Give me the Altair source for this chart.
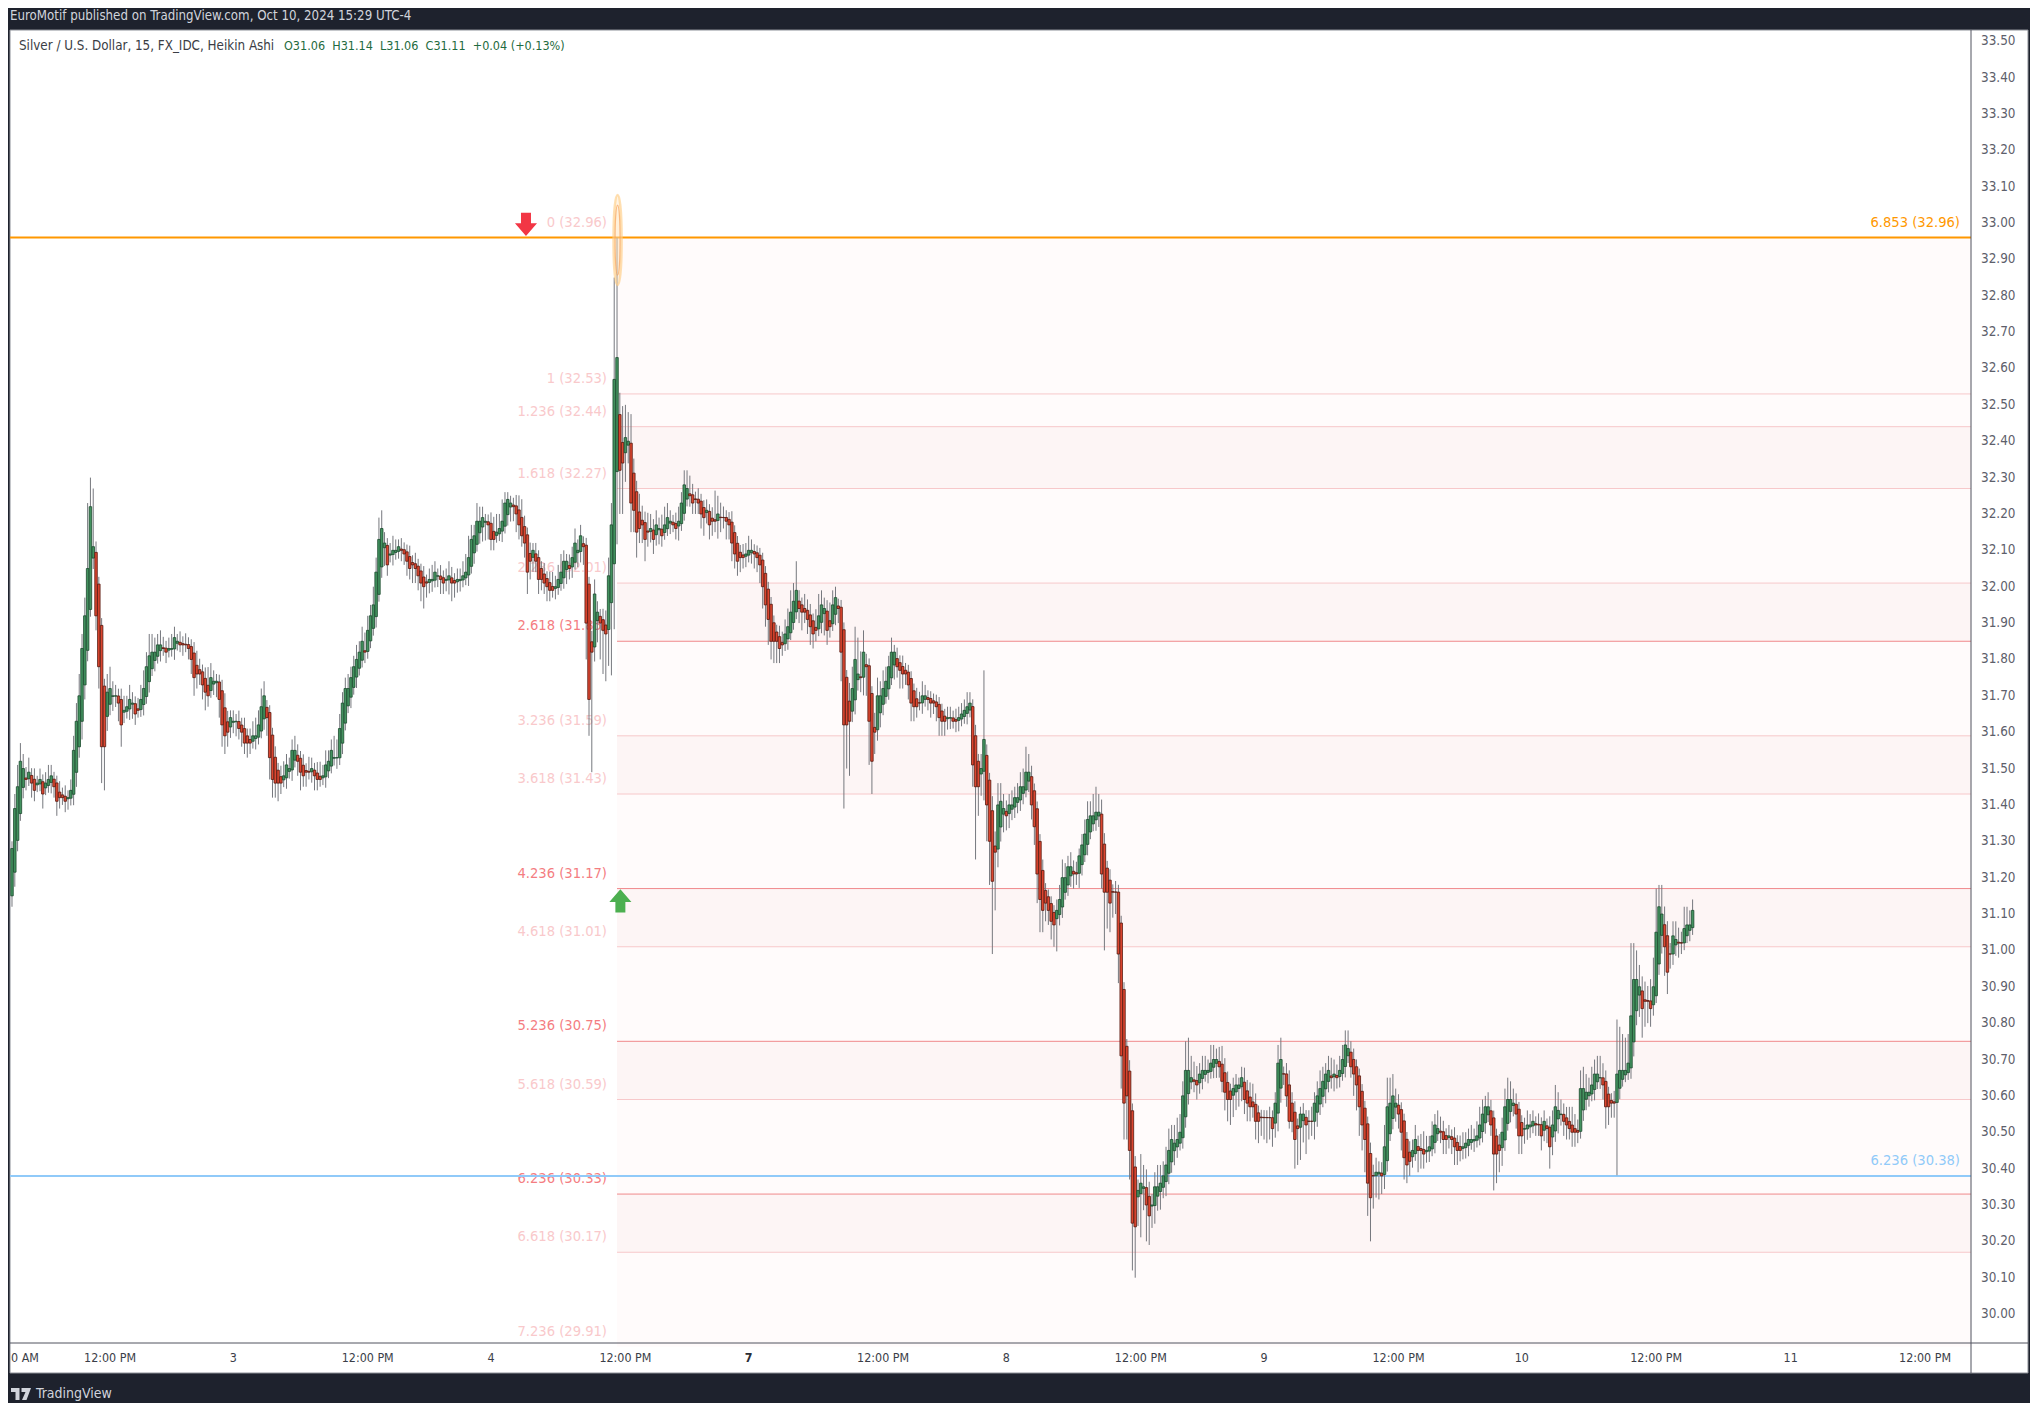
import altair as alt
import pandas as pd

FONT = "DejaVu Sans Condensed, Liberation Sans Narrow, DejaVu Sans, sans-serif"

# ------------------------------------------------------------------ data
first_open = 31.15
ha_close = [
    31.28, 31.39, 31.45, 31.52, 31.50, 31.47, 31.49, 31.46, 31.44, 31.46,
    31.47, 31.43, 31.46, 31.47, 31.48, 31.45, 31.41, 31.42, 31.42, 31.41,
    31.42, 31.44, 31.55, 31.63, 31.70, 31.83, 31.92, 32.05, 32.22, 32.11,
    31.92, 31.78, 31.56, 31.56, 31.71, 31.72, 31.70, 31.70, 31.68, 31.62,
    31.66, 31.67, 31.69, 31.68, 31.65, 31.66, 31.69, 31.72, 31.78, 31.81,
    31.82, 31.82, 31.84, 31.84, 31.83, 31.82, 31.83, 31.83, 31.86, 31.85,
    31.84, 31.84, 31.84, 31.83, 31.80, 31.75, 31.76, 31.76, 31.73, 31.71,
    31.70, 31.75, 31.74, 31.74, 31.69, 31.62, 31.59, 31.60, 31.64, 31.63,
    31.63, 31.61, 31.60, 31.57, 31.57, 31.57, 31.59, 31.59, 31.62, 31.67,
    31.70, 31.64, 31.53, 31.47, 31.46, 31.46, 31.46, 31.48, 31.51, 31.50,
    31.55, 31.55, 31.52, 31.49, 31.48, 31.49, 31.49, 31.50, 31.48, 31.47,
    31.47, 31.48, 31.51, 31.52, 31.55, 31.53, 31.53, 31.61, 31.68, 31.72,
    31.72, 31.75, 31.78, 31.80, 31.82, 31.85, 31.82, 31.88, 31.92, 31.95,
    32.04, 32.13, 32.16, 32.12, 32.06, 32.09, 32.10, 32.10, 32.11, 32.10,
    32.09, 32.07, 32.05, 32.06, 32.05, 32.03, 32.01, 32.00, 32.01, 32.02,
    32.02, 32.04, 32.03, 32.02, 32.01, 32.02, 32.03, 32.01, 32.01, 32.02,
    32.02, 32.03, 32.04, 32.08, 32.13, 32.14, 32.18, 32.18, 32.19, 32.18,
    32.17, 32.13, 32.13, 32.15, 32.16, 32.18, 32.23, 32.24, 32.23, 32.22,
    32.20, 32.17, 32.14, 32.12, 32.04, 32.07, 32.10, 32.07, 32.02, 32.02,
    32.01, 32.00, 31.99, 31.99, 32.00, 32.02, 32.04, 32.07, 32.07, 32.05,
    32.08, 32.12, 32.10, 32.14, 32.11, 31.90, 31.69, 31.82, 31.98, 31.93,
    31.90, 31.88, 31.87, 32.03, 32.17, 32.57, 32.63, 32.32, 32.34, 32.41,
    32.40, 32.23, 32.21, 32.15, 32.16, 32.17, 32.13, 32.15, 32.16, 32.13,
    32.17, 32.16, 32.14, 32.17, 32.19, 32.18, 32.17, 32.16, 32.18, 32.23,
    32.28, 32.27, 32.25, 32.23, 32.24, 32.23, 32.20, 32.19, 32.21, 32.17,
    32.18, 32.18, 32.20, 32.19, 32.19, 32.18, 32.17, 32.12, 32.09, 32.07,
    32.08, 32.08, 32.09, 32.10, 32.10, 32.09, 32.08, 32.06, 32.00, 31.95,
    31.91, 31.85, 31.85, 31.85, 31.83, 31.84, 31.87, 31.89, 31.93, 31.96,
    31.99, 31.94, 31.93, 31.93, 31.91, 31.89, 31.87, 31.88, 31.92, 31.95,
    31.94, 31.88, 31.89, 31.95, 31.97, 31.94, 31.82, 31.62, 31.62, 31.63,
    31.72, 31.80, 31.76, 31.75, 31.82, 31.78, 31.63, 31.52, 31.60, 31.70,
    31.70, 31.72, 31.74, 31.78, 31.82, 31.82, 31.78, 31.77, 31.76, 31.76,
    31.73, 31.68, 31.67, 31.67, 31.68, 31.70, 31.70, 31.69, 31.68, 31.68,
    31.67, 31.64, 31.63, 31.63, 31.64, 31.64, 31.63, 31.63, 31.64, 31.65,
    31.66, 31.67, 31.68, 31.51, 31.45, 31.45, 31.50, 31.58, 31.40, 31.30,
    31.19, 31.27, 31.40, 31.41, 31.39, 31.37, 31.40, 31.40, 31.42, 31.42,
    31.45, 31.45, 31.49, 31.49, 31.40, 31.34, 31.21, 31.14, 31.11, 31.13,
    31.11, 31.08, 31.07, 31.11, 31.14, 31.20, 31.20, 31.23, 31.23, 31.21,
    31.21, 31.26, 31.29, 31.32, 31.36, 31.37, 31.37, 31.38, 31.38, 31.21,
    31.16, 31.16, 31.13, 31.16, 31.16, 30.99, 30.71, 30.58, 30.60, 30.45,
    30.25, 30.24, 30.34, 30.36, 30.35, 30.30, 30.27, 30.30, 30.35, 30.35,
    30.36, 30.38, 30.41, 30.45, 30.48, 30.47, 30.48, 30.50, 30.60, 30.67,
    30.67, 30.65, 30.64, 30.63, 30.66, 30.67, 30.67, 30.67, 30.69, 30.70,
    30.70, 30.68, 30.64, 30.61, 30.59, 30.59, 30.62, 30.63, 30.63, 30.65,
    30.59, 30.58, 30.57, 30.57, 30.53, 30.53, 30.54, 30.54, 30.54, 30.54,
    30.51, 30.58, 30.69, 30.70, 30.66, 30.60, 30.53, 30.53, 30.48, 30.51,
    30.55, 30.55, 30.52, 30.53, 30.53, 30.58, 30.60, 30.62, 30.64, 30.66,
    30.67, 30.65, 30.66, 30.65, 30.67, 30.70, 30.74, 30.73, 30.68, 30.66,
    30.63, 30.57, 30.52, 30.48, 30.36, 30.32, 30.38, 30.39, 30.39, 30.38,
    30.46, 30.57, 30.58, 30.60, 30.58, 30.55, 30.50, 30.43, 30.41, 30.42,
    30.45, 30.48, 30.45, 30.45, 30.44, 30.45, 30.46, 30.49, 30.52, 30.51,
    30.50, 30.48, 30.48, 30.49, 30.48, 30.46, 30.45, 30.45, 30.46, 30.47,
    30.48, 30.48, 30.48, 30.49, 30.52, 30.55, 30.57, 30.57, 30.52, 30.44,
    30.44, 30.45, 30.50, 30.57, 30.59, 30.59, 30.58, 30.55, 30.49, 30.49,
    30.51, 30.52, 30.52, 30.53, 30.52, 30.52, 30.49, 30.53, 30.51, 30.46,
    30.52, 30.57, 30.56, 30.55, 30.53, 30.52, 30.51, 30.50, 30.50, 30.50,
    30.62, 30.62, 30.61, 30.61, 30.63, 30.66, 30.66, 30.65, 30.63, 30.57,
    30.57, 30.58, 30.58, 30.66, 30.67, 30.67, 30.67, 30.69, 30.82, 30.92,
    30.92, 30.90, 30.84, 30.86, 30.86, 30.84, 30.90, 31.05, 31.12, 31.10,
    31.01, 30.94, 30.99, 31.04, 31.03, 31.02, 31.02, 31.06, 31.07, 31.07,
    31.11,
]
# wick lengths above / below the body, in cents
wick_up = [
    2, 4, 6, 5, 4, 3, 4, 2, 3, 2, 3, 2, 3, 4, 3, 2, 2, 3, 2, 3,
    2, 3, 4, 5, 6, 4, 5, 18, 8, 16, 3, 2, 2, 2, 5, 6, 4, 3, 2, 3,
    4, 3, 4, 3, 2, 3, 4, 5, 4, 6, 5, 4, 3, 4, 3, 2, 3, 4, 3, 2,
    3, 2, 3, 2, 2, 3, 4, 3, 2, 3, 5, 4, 3, 2, 2, 3, 4, 3, 2, 3,
    2, 3, 2, 3, 2, 3, 4, 5, 4, 5, 4, 2, 2, 2, 3, 2, 3, 4, 3, 3,
    3, 4, 3, 2, 3, 2, 4, 3, 2, 3, 4, 3, 4, 3, 3, 6, 5, 4, 3, 3,
    4, 3, 3, 4, 3, 4, 5, 4, 3, 5, 4, 6, 5, 3, 2, 3, 4, 3, 2, 3,
    2, 2, 3, 2, 3, 2, 2, 3, 2, 3, 4, 3, 2, 3, 2, 3, 4, 3, 2, 3,
    3, 4, 5, 6, 4, 3, 5, 4, 3, 2, 2, 3, 4, 5, 4, 6, 3, 2, 2, 2,
    3, 4, 5, 3, 2, 3, 2, 3, 2, 2, 3, 2, 3, 4, 3, 4, 5, 3, 2, 3,
    3, 4, 3, 3, 2, 2, 2, 3, 4, 3, 2, 3, 4, 5, 6, 28, 33, 6, 10, 9,
    8, 8, 4, 3, 5, 4, 3, 5, 4, 3, 4, 3, 4, 5, 4, 3, 2, 3, 4, 3,
    4, 5, 5, 3, 2, 3, 2, 2, 3, 2, 3, 8, 5, 4, 3, 2, 2, 3, 2, 2,
    2, 3, 3, 4, 3, 2, 2, 2, 2, 2, 2, 2, 2, 2, 3, 3, 4, 5, 6, 5,
    8, 3, 2, 4, 3, 3, 2, 5, 6, 4, 3, 3, 5, 4, 3, 2, 2, 2, 2, 5,
    6, 9, 10, 7, 6, 3, 2, 2, 4, 5, 4, 5, 4, 3, 4, 2, 3, 2, 3, 2,
    2, 2, 2, 3, 3, 4, 3, 2, 2, 2, 2, 2, 2, 2, 3, 3, 2, 3, 3, 3,
    3, 4, 3, 2, 3, 2, 4, 19, 3, 2, 4, 4, 6, 5, 4, 3, 3, 4, 3, 4,
    4, 5, 7, 5, 3, 2, 2, 2, 3, 2, 2, 2, 2, 3, 4, 5, 4, 3, 4, 3,
    3, 2, 3, 4, 5, 4, 6, 7, 5, 4, 3, 2, 3, 2, 3, 2, 2, 2, 2, 3,
    2, 3, 3, 8, 6, 5, 4, 3, 4, 6, 5, 4, 5, 6, 4, 5, 6, 5, 4, 8,
    9, 6, 5, 4, 3, 4, 4, 3, 5, 4, 3, 4, 5, 4, 3, 2, 3, 3, 2, 3,
    4, 3, 4, 5, 3, 2, 2, 2, 2, 3, 2, 3, 5, 6, 2, 3, 4, 3, 3, 2,
    2, 3, 2, 3, 4, 3, 4, 5, 4, 3, 4, 5, 4, 3, 4, 4, 4, 5, 3, 3,
    2, 2, 2, 2, 2, 3, 3, 4, 3, 3, 6, 8, 7, 6, 4, 3, 2, 2, 2, 3,
    3, 4, 3, 4, 5, 4, 3, 4, 3, 5, 4, 3, 2, 3, 2, 3, 2, 3, 4, 3,
    3, 4, 3, 4, 5, 4, 3, 4, 3, 2, 2, 3, 4, 5, 6, 5, 4, 3, 2, 2,
    3, 4, 3, 3, 2, 3, 2, 3, 2, 3, 4, 6, 5, 4, 3, 3, 4, 5, 4, 3,
    5, 6, 5, 4, 5, 4, 5, 6, 4, 3, 2, 2, 3, 15, 12, 10, 9, 8, 20, 10,
    8, 6, 4, 5, 4, 6, 8, 12, 6, 8, 5, 4, 3, 4, 5, 4, 3, 6, 5, 4,
    3,
]
wick_dn = [
    3, 4, 3, 2, 3, 3, 2, 4, 3, 2, 2, 4, 2, 2, 3, 3, 4, 3, 2, 3,
    3, 2, 3, 4, 3, 5, 4, 3, 2, 3, 4, 6, 10, 12, 4, 3, 4, 3, 5, 6,
    3, 2, 3, 4, 3, 2, 2, 3, 2, 3, 2, 3, 2, 3, 2, 3, 2, 2, 3, 2,
    2, 3, 2, 3, 4, 5, 4, 3, 4, 5, 3, 2, 3, 4, 5, 6, 5, 4, 3, 3,
    4, 3, 4, 3, 4, 3, 2, 3, 2, 2, 3, 5, 6, 5, 4, 5, 3, 2, 3, 2,
    3, 2, 4, 5, 3, 4, 2, 3, 4, 3, 2, 2, 3, 2, 2, 2, 3, 2, 3, 2,
    2, 3, 2, 3, 2, 2, 3, 2, 2, 2, 3, 2, 3, 5, 3, 2, 3, 2, 2, 3,
    3, 4, 3, 5, 4, 4, 5, 6, 4, 3, 3, 2, 3, 4, 3, 3, 4, 5, 4, 3,
    3, 2, 2, 3, 2, 3, 2, 3, 4, 5, 4, 3, 3, 2, 2, 3, 2, 3, 4, 4,
    5, 4, 3, 4, 6, 5, 4, 3, 4, 3, 3, 4, 3, 2, 3, 2, 2, 3, 4, 3,
    3, 2, 4, 3, 5, 10, 10, 33, 4, 6, 10, 12, 13, 10, 20, 18, 20, 12, 14, 8,
    5, 8, 6, 7, 4, 5, 6, 4, 3, 4, 3, 4, 3, 2, 2, 3, 2, 3, 4, 2,
    2, 2, 3, 3, 4, 3, 4, 5, 3, 4, 4, 3, 5, 4, 3, 5, 4, 5, 4, 4,
    4, 3, 3, 2, 3, 4, 4, 5, 6, 6, 7, 5, 6, 6, 4, 3, 2, 3, 2, 2,
    2, 4, 5, 3, 4, 5, 4, 3, 2, 3, 6, 4, 3, 2, 3, 4, 8, 23, 12, 15,
    3, 4, 3, 4, 5, 8, 12, 9, 6, 3, 4, 3, 2, 3, 2, 4, 3, 5, 4, 3,
    4, 5, 4, 3, 2, 3, 2, 3, 4, 3, 4, 5, 4, 4, 3, 3, 2, 3, 3, 2,
    2, 3, 2, 6, 20, 8, 6, 8, 10, 12, 20, 16, 5, 4, 5, 4, 4, 3, 3, 3,
    3, 3, 2, 3, 4, 5, 8, 9, 6, 5, 4, 5, 6, 9, 3, 3, 2, 3, 3, 4,
    3, 4, 3, 2, 3, 2, 2, 3, 3, 4, 16, 10, 8, 7, 6, 8, 9, 10, 12, 8,
    13, 14, 8, 12, 6, 10, 8, 6, 5, 4, 5, 3, 4, 3, 3, 4, 3, 2, 3, 3,
    3, 2, 3, 4, 3, 3, 2, 3, 2, 3, 4, 3, 3, 5, 6, 7, 6, 5, 5, 4,
    4, 5, 4, 3, 5, 6, 5, 6, 7, 6, 5, 4, 5, 4, 3, 3, 2, 3, 8, 10,
    9, 6, 8, 5, 4, 5, 4, 3, 3, 4, 3, 3, 4, 3, 3, 2, 3, 2, 3, 6,
    7, 8, 7, 9, 9, 12, 9, 6, 7, 5, 4, 3, 2, 3, 4, 4, 5, 6, 5, 4,
    3, 2, 6, 5, 4, 3, 3, 2, 3, 2, 3, 4, 4, 3, 4, 5, 4, 3, 3, 3,
    3, 2, 3, 2, 2, 3, 3, 2, 3, 10, 8, 6, 5, 3, 2, 3, 3, 4, 5, 5,
    4, 3, 3, 2, 3, 3, 4, 3, 4, 6, 5, 3, 4, 3, 4, 4, 3, 4, 4, 3,
    2, 3, 3, 3, 2, 3, 2, 3, 4, 6, 5, 4, 4, 20, 3, 2, 2, 2, 3, 4,
    4, 6, 8, 7, 6, 5, 3, 2, 3, 5, 8, 6, 4, 3, 3, 4, 3, 2, 2, 3,
    2,
]

fib_ratio = ["0", "1", "1.236", "1.618", "2.236", "2.618", "3.236", "3.618",
             "4.236", "4.618", "5.236", "5.618", "6.236", "6.618", "7.236"]
fib_price = [32.96, 32.53, 32.44, 32.27, 32.01, 31.85, 31.59, 31.43,
             31.17, 31.01, 30.75, 30.59, 30.33, 30.17, 29.91]
fib_strong = [False, False, False, False, False, True, False, False,
              True, False, True, False, True, False, False]
fib_band_top = [32.44, 32.01, 31.59, 31.17, 30.75, 30.33]
fib_band_bottom = [32.27, 31.85, 31.43, 31.01, 30.59, 30.17]
fib_anchor_bar = 216

hline_price = [32.96, 30.38]
hline_label = ["6.853 (32.96)", "6.236 (30.38)"]
hline_color = ["#ff9800", "#90caf9"]

price_ticks = [30.00, 30.10, 30.20, 30.30, 30.40, 30.50, 30.60, 30.70, 30.80, 30.90,
               31.00, 31.10, 31.20, 31.30, 31.40, 31.50, 31.60, 31.70, 31.80, 31.90,
               32.00, 32.10, 32.20, 32.30, 32.40, 32.50, 32.60, 32.70, 32.80, 32.90,
               33.00, 33.10, 33.20, 33.30, 33.40, 33.50]

time_bar = [35, 79, 127, 171, 219, 263, 311, 355, 403, 447, 495, 539, 587, 635, 683]
time_text = ["12:00 PM", "3", "12:00 PM", "4", "12:00 PM", "7", "12:00 PM", "8",
             "12:00 PM", "9", "12:00 PM", "10", "12:00 PM", "11", "12:00 PM"]
time_bold = [False, False, False, False, False, True, False, False,
             False, False, False, False, False, False, False]

arrow_down = {"bar": 183.5, "price": 32.996}
arrow_up = {"bar": 217.2, "price": 31.136}
highlight = {"bar": 216.2, "price": 32.953}

# ------------------------------------------------------------------ tables
n = min(len(ha_close), len(wick_up), len(wick_dn))
opens = []
for k in range(n):
    if k == 0:
        opens.append(first_open)
    else:
        opens.append((opens[k - 1] + ha_close[k - 1]) / 2)

rows = []
for k in range(n):
    o = opens[k]
    c = ha_close[k]
    top = max(o, c)
    bot = min(o, c)
    up = c >= o
    rows.append({
        "bar": k, "xl": k - 0.45, "xr": k + 0.45,
        "top": top, "bot": bot,
        "hi": top + wick_up[k] / 100.0, "lo": bot - wick_dn[k] / 100.0,
        "fill": "#43925f" if up else "#dc4630",
        "stroke": "#1b4a2d" if up else "#56180e",
    })
candles = pd.DataFrame(rows)

fib = pd.DataFrame({
    "ratio": fib_ratio, "price": fib_price, "strong": fib_strong,
    "label": [f"{r} ({p:.2f})" for r, p in zip(fib_ratio, fib_price)],
    "bar": [fib_anchor_bar] * len(fib_ratio),
})
fib["lcolor"] = ["#f0888b" if s else "#f7c8ca" for s in fib_strong]
fib["tcolor"] = ["#f47d81" if s else "#f9c9cb" for s in fib_strong]
fib_lines = fib[fib["price"] > 29.93]

bands = pd.DataFrame({"top": fib_band_top, "bot": fib_band_bottom,
                      "bar": [fib_anchor_bar] * len(fib_band_top)})
whole_band = pd.DataFrame({"top": [fib_price[0]], "bot": [fib_price[-1]], "bar": [fib_anchor_bar]})

hl = pd.DataFrame({"price": hline_price, "label": hline_label, "color": hline_color})
ticks = pd.DataFrame({"p": price_ticks, "t": [f"{v:.2f}" for v in price_ticks]})
tl = pd.DataFrame({"bar": time_bar, "t": time_text, "b": time_bold})
tl_norm = tl[~tl["b"]]
tl_bold = tl[tl["b"]]

# ------------------------------------------------------------------ layout
PW, PH = 1960, 1313
XS = alt.Scale(domain=[-0.357, 699.39], nice=False, zero=False)
YS = alt.Scale(domain=[29.9205, 33.5307], nice=False, zero=False)
one = pd.DataFrame({"k": [0]})


def X(f):
    return alt.X(f, type="quantitative", scale=XS, axis=None)


def Y(f):
    return alt.Y(f, type="quantitative", scale=YS, axis=None)


layers = []

# white panel
layers.append(alt.Chart(one).mark_rect(fill="#ffffff", stroke="#8c8f97", strokeWidth=1).encode(
    x=alt.value(-1), x2=alt.value(2017), y=alt.value(0), y2=alt.value(1343)))

# fib fills
layers.append(alt.Chart(whole_band).mark_rect(fill="#fffbfb").encode(
    x=X("bar"), x2=alt.value(PW), y=Y("top"), y2="bot:Q"))
layers.append(alt.Chart(bands).mark_rect(fill="#fdf5f5").encode(
    x=X("bar"), x2=alt.value(PW), y=Y("top"), y2="bot:Q"))

# fib level lines
layers.append(alt.Chart(fib_lines).mark_rule(strokeWidth=1).encode(
    x=X("bar"), x2=alt.value(PW), y=Y("price"),
    color=alt.Color("lcolor:N", scale=None)))

# fib labels (left of anchor)
layers.append(alt.Chart(fib).mark_text(align="right", baseline="middle", dy=-15,
                                       font=FONT, fontSize=14.6).encode(
    x=alt.value(596), y=Y("price"), text="label:N",
    color=alt.Color("tcolor:N", scale=None)))

# user horizontal lines
layers.append(alt.Chart(hl).mark_rule(strokeWidth=2).encode(
    x=alt.value(-1), x2=alt.value(PW), y=Y("price"),
    color=alt.Color("color:N", scale=None)))
layers.append(alt.Chart(hl).mark_text(align="right", baseline="middle", dy=-15,
                                      font=FONT, fontSize=14.6).encode(
    x=alt.value(1949), y=Y("price"), text="label:N",
    color=alt.Color("color:N", scale=None)))

# candles
layers.append(alt.Chart(candles).mark_rule(strokeWidth=1, color="#76787e").encode(
    x=X("bar"), y=Y("hi"), y2="lo:Q"))
layers.append(alt.Chart(candles).mark_rect(strokeWidth=0.8).encode(
    x=X("xl"), x2="xr:Q", y=Y("top"), y2="bot:Q",
    fill=alt.Fill("fill:N", scale=None), stroke=alt.Stroke("stroke:N", scale=None)))

# highlight ellipse around spike top
ell_outer = "M 0,-1 C 0.12,-1 0.12,1 0,1 C -0.12,1 -0.12,-1 0,-1 Z"
ell_inner = "M 0,-1 C 0.095,-1 0.095,1 0,1 C -0.095,1 -0.095,-1 0,-1 Z"
hd = pd.DataFrame([highlight])
layers.append(alt.Chart(hd).mark_point(shape=ell_outer, size=8100, filled=True, fill="#ffe0b2",
                                       fillOpacity=0.35, stroke="#ffcc80", strokeWidth=2.5,
                                       strokeOpacity=0.6).encode(x=X("bar"), y=Y("price")))
layers.append(alt.Chart(hd).mark_point(shape=ell_inner, size=4900, filled=True, fill="#ffe0b2",
                                       fillOpacity=0.2, stroke="#f7a25a", strokeWidth=1.2,
                                       strokeOpacity=0.7).encode(x=X("bar"), y=Y("price")))

# arrows
down_path = "M -0.43,-1 L 0.43,-1 L 0.43,-0.1 L 0.95,-0.1 L 0,1 L -0.95,-0.1 L -0.43,-0.1 Z"
up_path = "M -0.43,1 L 0.43,1 L 0.43,0.1 L 0.95,0.1 L 0,-1 L -0.95,0.1 L -0.43,0.1 Z"
layers.append(alt.Chart(pd.DataFrame([arrow_down])).mark_point(
    shape=down_path, size=540, filled=True, fill="#f23645", strokeWidth=0, opacity=1).encode(
    x=X("bar"), y=Y("price")))
layers.append(alt.Chart(pd.DataFrame([arrow_up])).mark_point(
    shape=up_path, size=540, filled=True, fill="#4caf50", strokeWidth=0, opacity=1).encode(
    x=X("bar"), y=Y("price")))

# frame lines (price axis / time axis separators)
layers.append(alt.Chart(one).mark_rule(color="#50535e", strokeWidth=1).encode(
    x=alt.value(PW), y=alt.value(0), y2=alt.value(1343)))
layers.append(alt.Chart(one).mark_rule(color="#50535e", strokeWidth=1).encode(
    x=alt.value(-1), x2=alt.value(2017), y=alt.value(PH)))

# price labels
layers.append(alt.Chart(ticks).mark_text(align="left", baseline="middle", font=FONT,
                                         fontSize=13.4, color="#5d606b").encode(
    x=alt.value(1970), y=Y("p"), text="t:N"))

# time labels
layers.append(alt.Chart(tl_norm).mark_text(align="center", baseline="middle", font=FONT,
                                           fontSize=12.4, color="#3b3e48").encode(
    x=X("bar"), y=alt.value(1328), text="t:N"))
layers.append(alt.Chart(tl_bold).mark_text(align="center", baseline="middle", font=FONT,
                                           fontSize=12.4, fontWeight="bold", color="#2a2d35").encode(
    x=X("bar"), y=alt.value(1328), text="t:N"))
layers.append(alt.Chart(pd.DataFrame({"t": ["0 AM"]})).mark_text(
    align="left", baseline="middle", font=FONT, fontSize=12.4, color="#3b3e48").encode(
    x=alt.value(0), y=alt.value(1328), text="t:N"))

# header texts
layers.append(alt.Chart(pd.DataFrame({"t": ["EuroMotif published on TradingView.com, Oct 10, 2024 15:29 UTC-4"]})).mark_text(
    align="left", baseline="middle", font=FONT, fontSize=13.2, color="#d1d4dc").encode(
    x=alt.value(-1), y=alt.value(-14), text="t:N"))
layers.append(alt.Chart(pd.DataFrame({"t": ["Silver / U.S. Dollar, 15, FX_IDC, Heikin Ashi"]})).mark_text(
    align="left", baseline="middle", font=FONT, fontSize=13.3, color="#3a3d45").encode(
    x=alt.value(8), y=alt.value(16), text="t:N"))
layers.append(alt.Chart(pd.DataFrame({"t": ["O31.06\u00a0\u00a0H31.14\u00a0\u00a0L31.06\u00a0\u00a0C31.11\u00a0\u00a0+0.04 (+0.13%)"]})).mark_text(
    align="left", baseline="middle", font=FONT, fontSize=12.5, color="#1f6b40").encode(
    x=alt.value(273), y=alt.value(16), text="t:N"))

# footer
logo_path = ("M -1,-0.6 L -0.15,-0.6 L -0.15,0.6 L -0.55,0.6 L -0.55,-0.2 L -1,-0.2 Z "
             "M 0.05,-0.6 L 1,-0.6 L 0.55,0.6 L 0.1,0.6 L 0.45,-0.2 L 0.05,-0.2 Z")
layers.append(alt.Chart(one).mark_point(shape=logo_path, size=400, filled=True, fill="#d1d4dc",
                                        strokeWidth=0, opacity=1).encode(
    x=alt.value(10), y=alt.value(1364)))
layers.append(alt.Chart(pd.DataFrame({"t": ["TradingView"]})).mark_text(
    align="left", baseline="middle", font=FONT, fontSize=14, color="#d1d4dc").encode(
    x=alt.value(25), y=alt.value(1364), text="t:N"))

chart = alt.layer(*layers).properties(
    width=PW, height=PH,
    background="#1e222d",
    padding={"left": 3, "top": 22, "right": 59, "bottom": 60},
    autosize=alt.AutoSizeParams(type="none"),
).configure_view(stroke=None)

chart.save("out.html", embed_options={"renderer": "svg", "actions": False})
